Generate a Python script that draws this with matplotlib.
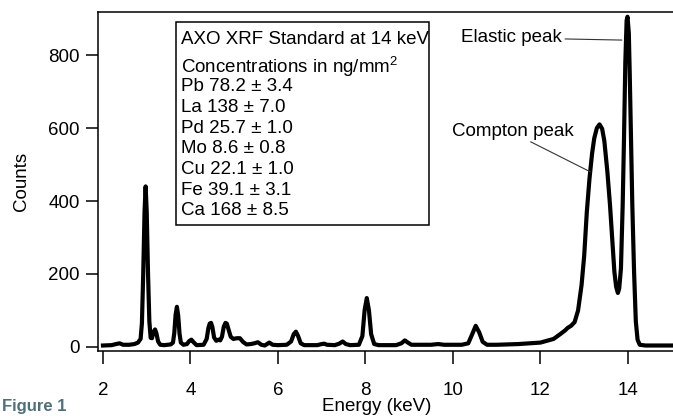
import matplotlib
matplotlib.use('Agg')
import matplotlib.pyplot as plt
from matplotlib.patches import Rectangle

plt.rcParams['font.family'] = ['Liberation Sans', 'DejaVu Sans']
plt.rcParams['mathtext.fontset'] = 'custom'
plt.rcParams['mathtext.rm'] = 'Liberation Sans'
plt.rcParams['mathtext.it'] = 'Liberation Sans'

# spectrum (keV, counts)
energy = [2.00, 2.20, 2.30, 2.38, 2.46, 2.60, 2.72, 2.80, 2.86, 2.89, 2.92, 2.95, 2.975,
          3.00, 3.03, 3.06, 3.09, 3.12, 3.15, 3.19, 3.22, 3.26, 3.31, 3.40, 3.55, 3.60,
          3.63, 3.66, 3.69, 3.72, 3.75, 3.78, 3.84, 3.92, 3.97, 4.02, 4.07, 4.14, 4.30,
          4.37, 4.41, 4.44, 4.47, 4.50, 4.54, 4.59, 4.64, 4.68, 4.72, 4.76, 4.80, 4.83,
          4.87, 4.92, 4.98, 5.06, 5.13, 5.20, 5.28, 5.38, 5.46, 5.54, 5.62, 5.70, 5.80,
          5.88, 6.00, 6.20, 6.30, 6.36, 6.41, 6.46, 6.52, 6.60, 6.90, 7.00, 7.06, 7.12,
          7.30, 7.40, 7.48, 7.55, 7.65, 7.85, 7.93, 7.98, 8.03, 8.08, 8.13, 8.20, 8.30,
          8.70, 8.82, 8.90, 8.97, 9.05, 9.20, 9.50, 9.66, 9.80, 10.20, 10.35, 10.44,
          10.52, 10.60, 10.68, 10.78, 11.00, 11.50, 12.00, 12.30, 12.45, 12.56, 12.62,
          12.70, 12.78, 12.86, 12.94, 13.00, 13.06, 13.12, 13.18, 13.23, 13.29, 13.35,
          13.41, 13.46, 13.53, 13.59, 13.65, 13.69, 13.73, 13.77, 13.80, 13.84, 13.88,
          13.91, 13.94, 13.97, 13.99, 14.02, 14.04, 14.07, 14.10, 14.14, 14.18, 14.22,
          14.27, 14.40, 15.00]
counts = [4, 5, 8, 10, 6, 6, 8, 12, 22, 65, 200, 370, 440,
          370, 200, 70, 25, 24, 40, 48, 38, 15, 6, 5, 7, 12,
          38, 88, 110, 85, 36, 12, 6, 8, 16, 20, 13, 5, 6,
          22, 52, 64, 66, 55, 26, 17, 20, 18, 28, 55, 66, 64,
          48, 28, 22, 24, 24, 14, 7, 8, 10, 13, 6, 4, 12,
          6, 5, 6, 15, 35, 42, 30, 10, 5, 5, 8, 9, 6,
          5, 9, 15, 8, 5, 6, 30, 100, 134, 100, 35, 8, 5,
          5, 10, 18, 12, 6, 6, 6, 8, 6, 6, 10, 35,
          58, 40, 14, 6, 6, 8, 12, 22, 35, 45, 52,
          58, 68, 100, 170, 250, 370, 460, 530, 572, 600, 610,
          598, 565, 480, 389, 280, 206, 165, 148, 160, 215, 390,
          572, 780, 895, 905, 860, 754, 572, 389, 206, 70, 20,
          6, 4, 4]

box_title = 'AXO XRF Standard at 14 keV'
box_sub = 'Concentrations in ng/mm$^{2}$'
conc_lines = ['Pb 78.2 \u00b1 3.4', 'La 138 \u00b1 7.0', 'Pd 25.7 \u00b1 1.0',
              'Mo 8.6 \u00b1 0.8', 'Cu 22.1 \u00b1 1.0', 'Fe 39.1 \u00b1 3.1',
              'Ca 168 \u00b1 8.5']

fs = 13.5

fig = plt.figure(figsize=(6.73, 4.16), dpi=100)
ax = fig.add_axes([0.1456, 0.1563, 0.8544, 0.8149])

ax.plot(energy, counts, color='black', lw=3.0, solid_joinstyle='round')

ax.set_xlim(1.886, 15.03)
ax.set_ylim(-11, 918)
ax.set_xticks([2, 4, 6, 8, 10, 12, 14])
ax.set_yticks([0, 200, 400, 600, 800])
ax.tick_params(axis='both', direction='out', length=9, width=1.1, labelsize=fs, color='black')
ax.tick_params(axis='x', pad=13)
ax.tick_params(axis='y', pad=4)
ax.spines['right'].set_visible(False)
for s in ['left', 'bottom', 'top']:
    ax.spines[s].set_linewidth(1.1)

ax.set_ylabel('Counts', fontsize=fs)
ax.yaxis.set_label_coords(-0.118, 0.5)
fig.text(0.559, 0.022, 'Energy (keV)', fontsize=fs, ha='center', va='center')

# concentration box
ax.add_patch(Rectangle((0.135, 0.372), 0.441, 0.599, transform=ax.transAxes,
                       fill=False, lw=1.1, ec='black'))
ax.text(0.144, 0.920, box_title, transform=ax.transAxes, fontsize=fs, va='center')
ax.text(0.144, 0.838, box_sub, transform=ax.transAxes, fontsize=fs, va='center')
for i, line in enumerate(conc_lines):
    ax.text(0.144, 0.779 - i * 0.0610, line, transform=ax.transAxes, fontsize=fs, va='center')

# peak labels
ax.annotate('Elastic peak', xy=(13.86, 841), xytext=(12.50, 847), fontsize=fs,
            ha='right', va='center',
            arrowprops=dict(arrowstyle='-', color='#333333', lw=0.8, shrinkA=0, shrinkB=0))
ax.text(9.97, 590, 'Compton peak', fontsize=fs, ha='left', va='center')
ax.plot([11.78, 13.14], [562, 480], color='#333333', lw=0.8)

fig.text(0.003, 0.004, 'Figure 1', fontsize=12, fontweight='bold', color='#4f6f7a',
         ha='left', va='bottom')

fig.savefig('out.png', dpi=100)
